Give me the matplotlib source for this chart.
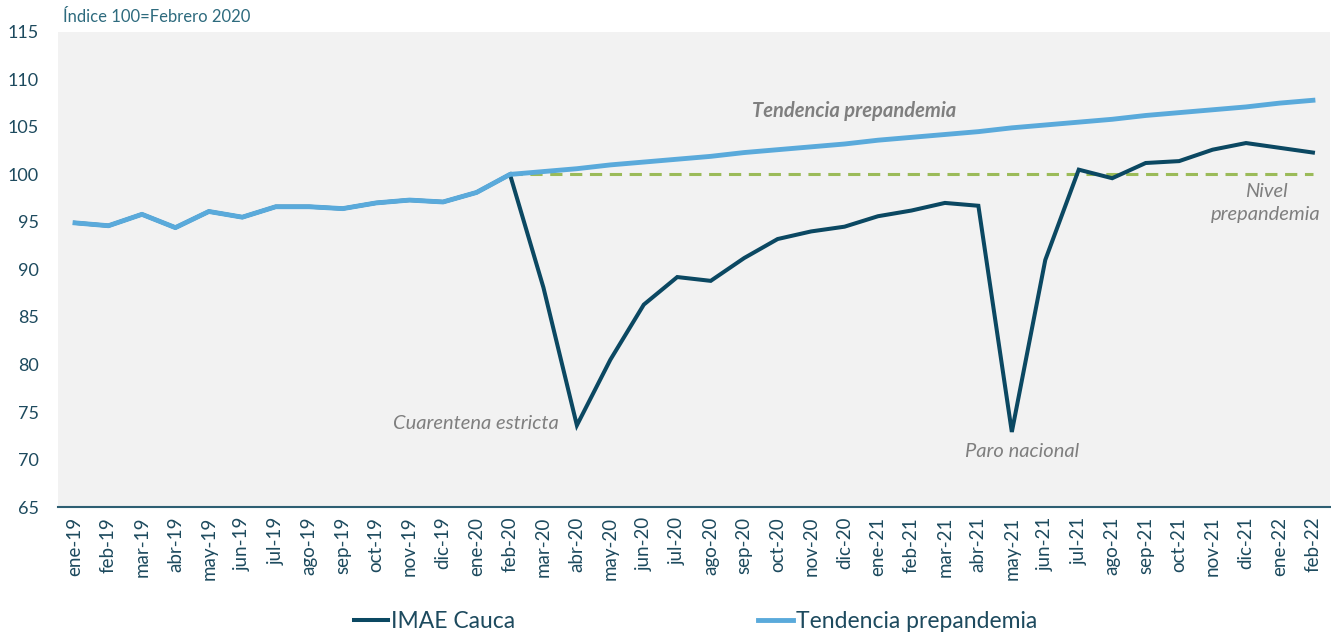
import matplotlib.pyplot as plt

plt.rcParams['font.family'] = ['Lato', 'DejaVu Sans']

# Month labels, ene-19 .. feb-22
months = ['ene-19', 'feb-19', 'mar-19', 'abr-19', 'may-19', 'jun-19', 'jul-19', 'ago-19',
          'sep-19', 'oct-19', 'nov-19', 'dic-19', 'ene-20', 'feb-20', 'mar-20', 'abr-20',
          'may-20', 'jun-20', 'jul-20', 'ago-20', 'sep-20', 'oct-20', 'nov-20', 'dic-20',
          'ene-21', 'feb-21', 'mar-21', 'abr-21', 'may-21', 'jun-21', 'jul-21', 'ago-21',
          'sep-21', 'oct-21', 'nov-21', 'dic-21', 'ene-22', 'feb-22']

# IMAE Cauca (index 100 = feb 2020)
imae = [94.9, 94.6, 95.8, 94.4, 96.1, 95.5, 96.6, 96.6, 96.4, 97.0, 97.3, 97.1, 98.1, 100.0,
        88.1, 73.6, 80.5, 86.3, 89.2, 88.8, 91.2, 93.2, 94.0, 94.5, 95.6, 96.2, 97.0, 96.7,
        72.9, 91.0, 100.5, 99.6, 101.2, 101.4, 102.6, 103.3, 102.8, 102.3]

# Prepandemic trend (observed up to feb-20, projected afterwards)
tendencia = [94.9, 94.6, 95.8, 94.4, 96.1, 95.5, 96.6, 96.6, 96.4, 97.0, 97.3, 97.1, 98.1, 100.0,
             100.3, 100.6, 101.0, 101.3, 101.6, 101.9, 102.3, 102.6, 102.9, 103.2, 103.6, 103.9,
             104.2, 104.5, 104.9, 105.2, 105.5, 105.8, 106.2, 106.5, 106.8, 107.1, 107.5, 107.8]

# Prepandemic level, from feb-20 on
nivel_start = 13
nivel = [100.0] * (len(months) - nivel_start)

DARK = '#0b4862'
LIGHT = '#5aaadb'
GREEN = '#9bbb59'
GRAY = '#7f7f7f'
TICK = '#1d4a5e'

fig = plt.figure(figsize=(13.31, 6.37), dpi=100)
ax = fig.add_axes([0.0438, 0.204, 0.9552, 0.746])
ax.set_facecolor('#f2f2f2')

x = list(range(len(months)))
ax.plot(x, imae, color=DARK, lw=2.9, solid_joinstyle='miter', zorder=3, label='IMAE Cauca')
ax.plot(x, tendencia, color=LIGHT, lw=3.5, zorder=4, label='Tendencia prepandemia')
ax.plot(x[nivel_start:], nivel, color=GREEN, lw=2.2, ls=(0, (4, 2.5)), zorder=2)

ax.set_xlim(-0.5, 37.5)
ax.set_ylim(65, 115)
ax.set_yticks(range(65, 116, 5))
ax.set_xticks(x)
ax.set_xticklabels(months, rotation=90, fontsize=13.5, color=TICK)
ax.tick_params(axis='y', labelsize=13, colors=TICK, length=0, pad=14)
ax.tick_params(axis='x', length=0, pad=7)

for s in ['top', 'right', 'left']:
    ax.spines[s].set_visible(False)
ax.spines['bottom'].set_color('#2e5f73')
ax.spines['bottom'].set_linewidth(1.5)

# Annotations
ax.text(23.3, 106.7, 'Tendencia prepandemia', fontsize=14.5, style='italic', fontweight='bold',
        color=GRAY, ha='center', va='center')
ax.text(35.6, 97.0, 'Nivel\nprepandemia', fontsize=14.5, style='italic', color=GRAY,
        ha='center', va='center', multialignment='center', linespacing=1.4)
ax.text(14.45, 73.8, 'Cuarentena estricta', fontsize=14.5, style='italic', color=GRAY,
        ha='right', va='center')
ax.text(28.3, 70.8, 'Paro nacional', fontsize=14.5, style='italic', color=GRAY,
        ha='center', va='center')

fig.text(0.047, 0.973, 'Índice 100=Febrero 2020', fontsize=12, color='#2e6b7e',
         ha='left', va='center')

leg = fig.legend(loc='center left', bbox_to_anchor=(0.257, 0.025), ncol=2, frameon=False,
                 fontsize=16.5, handlelength=1.5, handletextpad=0.15, columnspacing=10.6,
                 borderpad=0)
for t in leg.get_texts():
    t.set_color(TICK)

fig.savefig('out.png', dpi=100)
